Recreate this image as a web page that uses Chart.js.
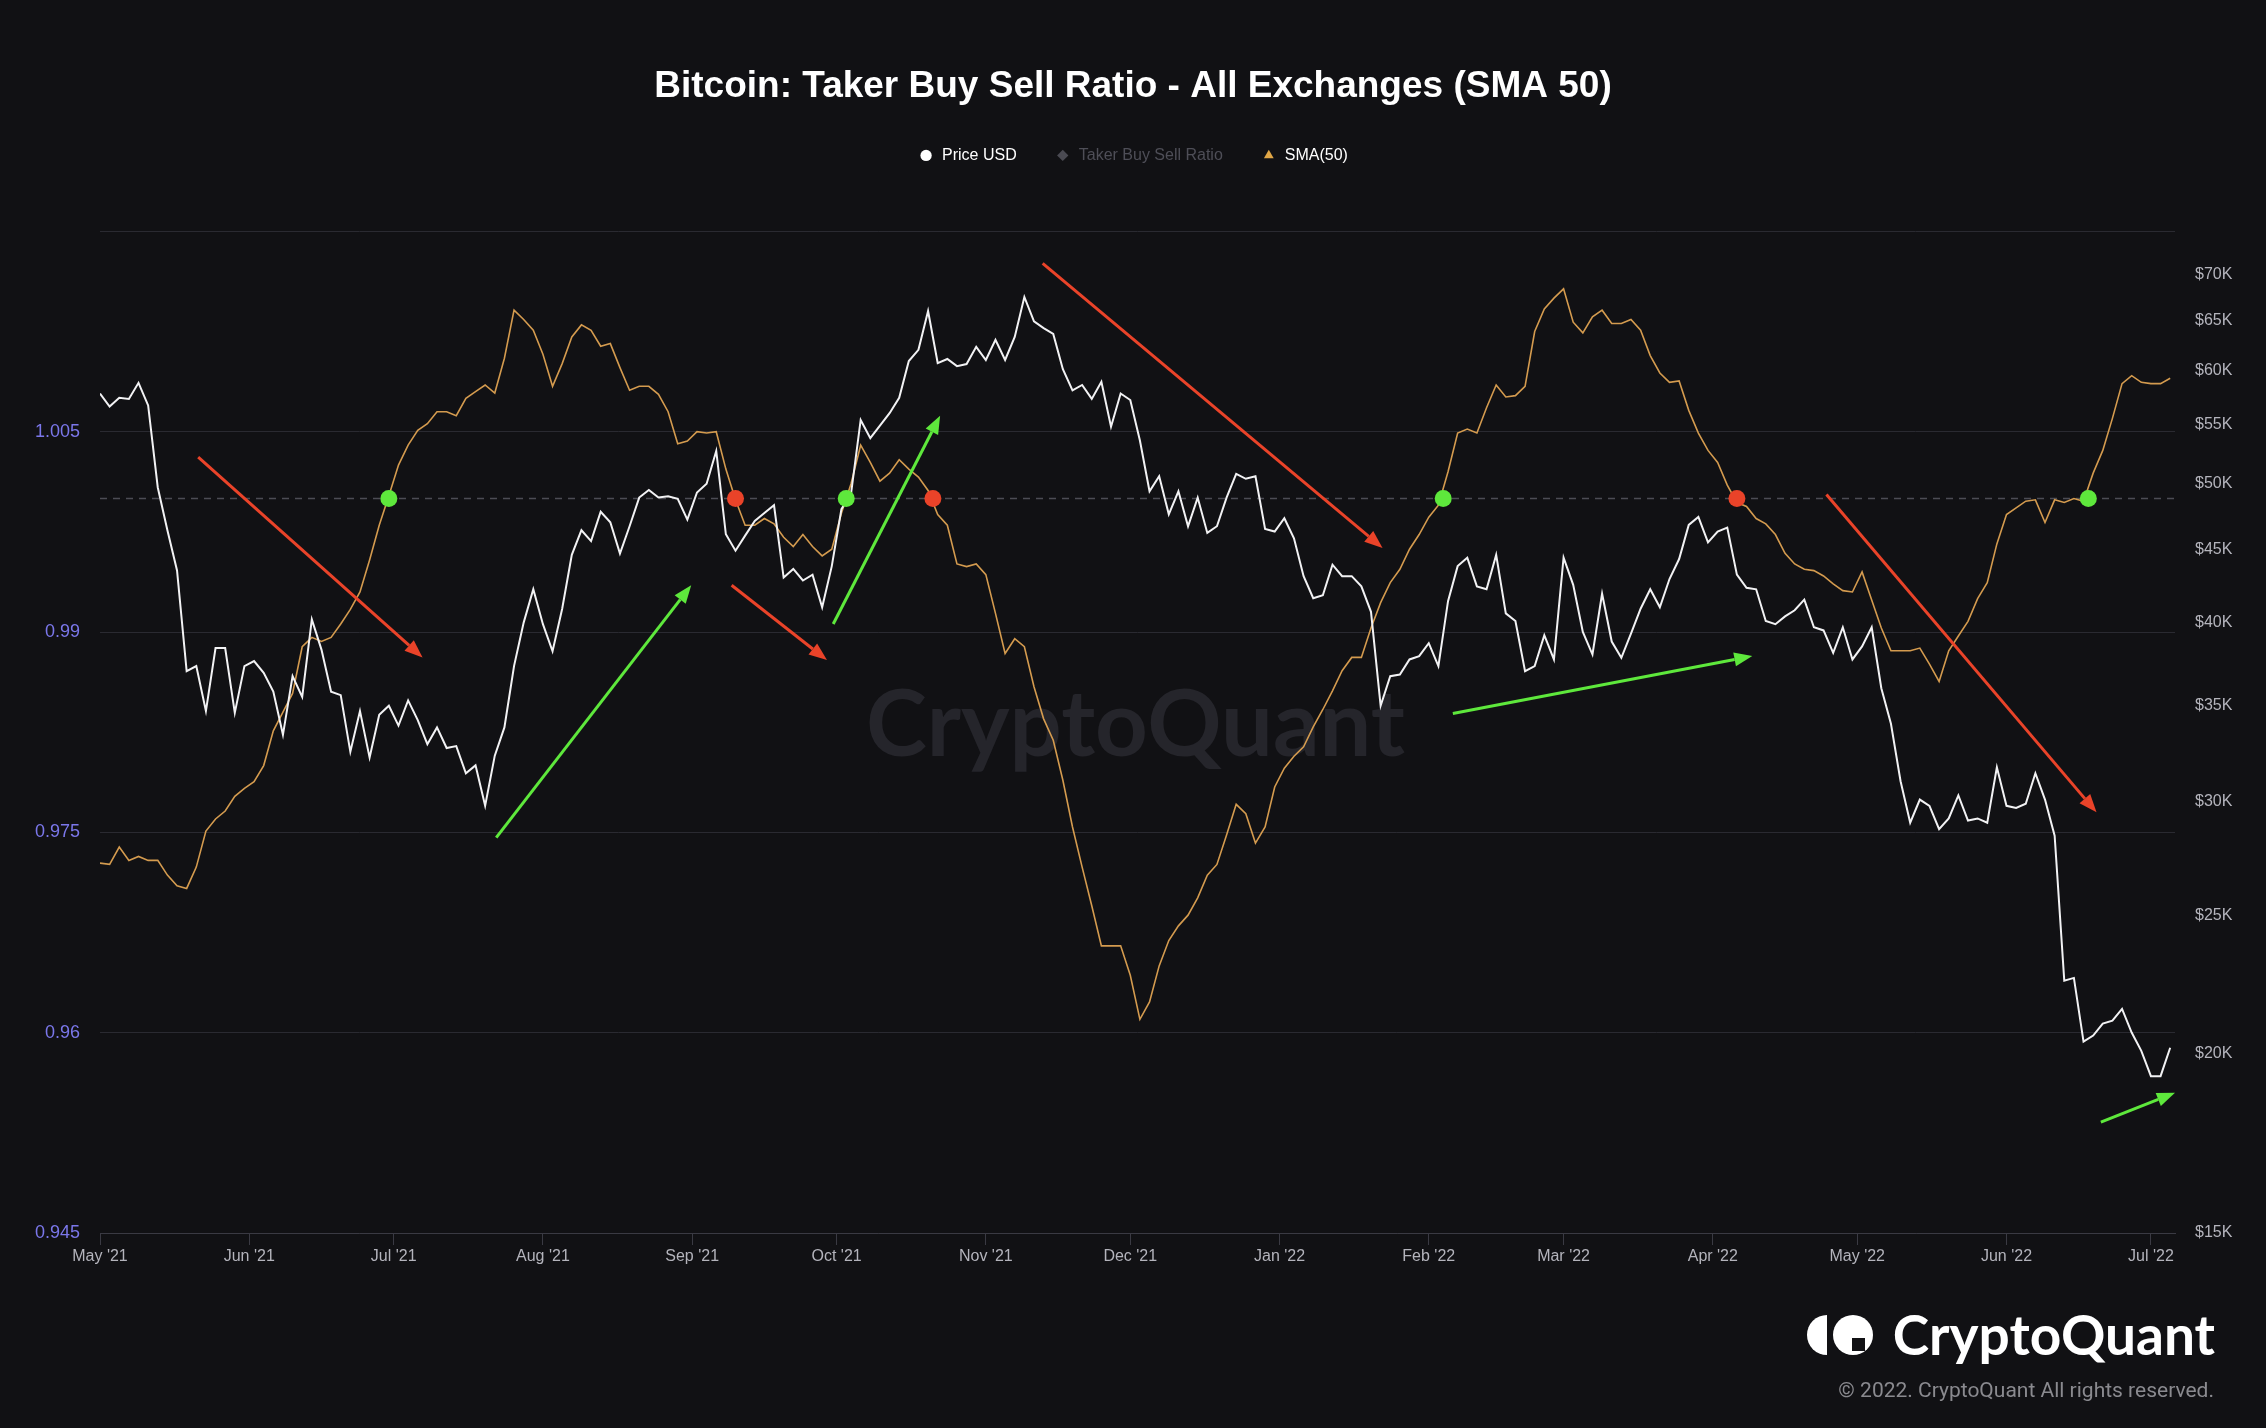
<!DOCTYPE html>
<html>
<head>
<meta charset="utf-8">
<title>Bitcoin: Taker Buy Sell Ratio - All Exchanges (SMA 50)</title>
<script src="https://cdn.jsdelivr.net/npm/chart.js@4.4.1/dist/chart.umd.min.js"></script>
<style>
  html, body { margin: 0; padding: 0; background: #111114; }
  #wrap { width: 2266px; height: 1428px; position: relative; }
</style>
</head>
<body>
<div id="wrap"><canvas id="chart"></canvas></div>
<script>
// x values are days since 1 May 2021
const priceStepDays = 2;
const smaStepDays = 2;

const monthTickDays = [0, 31, 61, 92, 123, 153, 184, 214, 245, 276, 304, 335, 365, 396, 426];
const monthTickLabels = ["May '21", "Jun '21", "Jul '21", "Aug '21", "Sep '21", "Oct '21", "Nov '21",
  "Dec '21", "Jan '22", "Feb '22", "Mar '22", "Apr '22", "May '22", "Jun '22", "Jul '22"];

const ratioTicks = [0.945, 0.96, 0.975, 0.99, 1.005, 1.02];
const ratioTickLabels = ['0.945', '0.96', '0.975', '0.99', '1.005', ''];

const priceTicks = [15000, 20000, 25000, 30000, 35000, 40000, 45000, 50000, 55000, 60000, 65000, 70000];
const priceTickLabels = ['$15K', '$20K', '$25K', '$30K', '$35K', '$40K', '$45K', '$50K', '$55K', '$60K', '$65K', '$70K'];

// BTC price, thousands of USD, every 2 days
const priceUsdK = [
  57.8, 56.6, 57.4, 57.3, 58.8, 56.7, 49.7, 46.4, 43.5, 37.0,
  37.3, 34.7, 38.4, 38.4, 34.6, 37.3, 37.6, 36.9, 35.8, 33.4,
  36.7, 35.5, 40.2, 38.3, 35.8, 35.6, 32.5, 34.7, 32.2, 34.5,
  35.0, 33.9, 35.3, 34.2, 32.9, 33.8, 32.7, 32.8, 31.4, 31.8,
  29.8, 32.3, 33.8, 37.3, 40.0, 42.2, 39.9, 38.2, 40.9, 44.6,
  46.4, 45.6, 47.8, 47.0, 44.7, 46.7, 48.9, 49.5, 48.9, 49.0,
  48.8, 47.2, 49.3, 50.0, 52.7, 46.1, 44.9, 46.0, 47.1, 47.7,
  48.3, 43.0, 43.6, 42.8, 43.2, 41.0, 43.8, 48.0, 49.2, 55.4,
  53.8, 54.9, 56.0, 57.4, 60.9, 62.0, 66.0, 60.7, 61.1, 60.4,
  60.6, 62.3, 61.0, 63.0, 61.0, 63.3, 67.5, 64.9, 64.2, 63.6,
  60.1, 58.1, 58.6, 57.3, 58.9, 54.8, 57.8, 57.2, 53.6, 49.4,
  50.6, 47.6, 49.4, 46.7, 48.9, 46.2, 46.7, 48.9, 50.8, 50.4,
  50.6, 46.5, 46.3, 47.3, 45.8, 43.1, 41.6, 41.8, 43.9, 43.1,
  43.1, 42.4, 40.7, 35.0, 36.7, 36.8, 37.7, 37.9, 38.7, 37.3,
  41.4, 43.8, 44.4, 42.4, 42.2, 44.6, 40.6, 40.1, 37.0, 37.3,
  39.2, 37.7, 44.4, 42.5, 39.4, 38.0, 41.9, 38.8, 37.8, 39.3,
  40.9, 42.2, 41.0, 42.9, 44.3, 46.8, 47.4, 45.5, 46.3, 46.6,
  43.2, 42.3, 42.2, 40.1, 39.9, 40.4, 40.8, 41.5, 39.7, 39.5,
  38.1, 39.7, 37.7, 38.5, 39.7, 36.0, 34.0, 31.0, 29.0, 30.1,
  29.8, 28.7, 29.2, 30.3, 29.1, 29.2, 29.0, 31.7, 29.8, 29.7,
  29.9, 31.4, 30.1, 28.4, 22.5, 22.6, 20.4, 20.6, 21.0, 21.1,
  21.5, 20.7, 20.1, 19.3, 19.3, 20.2
];

// Taker buy/sell ratio, 50-day SMA, every 2 days
const sma50 = [
  0.9727, 0.9726, 0.9739, 0.9729, 0.9732, 0.9729, 0.9729, 0.9718, 0.9710, 0.9708,
  0.9724, 0.9751, 0.9760, 0.9766, 0.9777, 0.9783, 0.9788, 0.9800, 0.9826, 0.9840,
  0.9854, 0.9889, 0.9896, 0.9893, 0.9896, 0.9906, 0.9917, 0.9930, 0.9954, 0.9980,
  1.0002, 1.0025, 1.0040, 1.0051, 1.0056, 1.0065, 1.0065, 1.0062, 1.0075, 1.0080,
  1.0085, 1.0079, 1.0105, 1.0141, 1.0134, 1.0126, 1.0108, 1.0084, 1.0101, 1.0121,
  1.0130, 1.0126, 1.0114, 1.0116, 1.0098, 1.0081, 1.0084, 1.0084, 1.0078, 1.0065,
  1.0041, 1.0043, 1.0050, 1.0049, 1.0050, 1.0022, 0.9999, 0.9980, 0.9980, 0.9985,
  0.9981, 0.9971, 0.9964, 0.9973, 0.9964, 0.9957, 0.9962, 0.9989, 1.0011, 1.0040,
  1.0027, 1.0013, 1.0019, 1.0029, 1.0022, 1.0016, 1.0006, 0.9988, 0.9980, 0.9951,
  0.9949, 0.9951, 0.9943, 0.9914, 0.9884, 0.9895, 0.9889, 0.9859, 0.9835, 0.9819,
  0.9789, 0.9754, 0.9724, 0.9695, 0.9665, 0.9665, 0.9665, 0.9643, 0.9610, 0.9623,
  0.9650, 0.9669, 0.9680, 0.9688, 0.9701, 0.9718, 0.9726, 0.9748, 0.9771, 0.9764,
  0.9742, 0.9754, 0.9784, 0.9798, 0.9807, 0.9814, 0.9829, 0.9842, 0.9856, 0.9871,
  0.9881, 0.9881, 0.9903, 0.9922, 0.9937, 0.9947, 0.9962, 0.9973, 0.9986, 0.9995,
  1.0020, 1.0049, 1.0052, 1.0049, 1.0068, 1.0085, 1.0076, 1.0077, 1.0084, 1.0125,
  1.0142, 1.0150, 1.0157, 1.0132, 1.0124, 1.0136, 1.0141, 1.0131, 1.0131, 1.0134,
  1.0126, 1.0107, 1.0094, 1.0087, 1.0088, 1.0066, 1.0049, 1.0036, 1.0027, 1.0010,
  0.9997, 0.9994, 0.9985, 0.9981, 0.9973, 0.9959, 0.9951, 0.9947, 0.9946, 0.9942,
  0.9936, 0.9931, 0.9930, 0.9945, 0.9924, 0.9903, 0.9886, 0.9886, 0.9886, 0.9888,
  0.9876, 0.9863, 0.9886, 0.9897, 0.9908, 0.9925, 0.9937, 0.9966, 0.9988, 0.9993,
  0.9998, 0.9999, 0.9982, 0.9999, 0.9997, 1.0000, 0.9998, 1.0019, 1.0036, 1.0060,
  1.0086, 1.0092, 1.0087, 1.0086, 1.0086, 1.0090
];

const ratioBaseline = 1.0;
const lastDay = 431;

// SMA crossings of 1.0 (day, 'up' | 'down')
const crossDays = [60, 132, 155, 173, 279, 340, 413];
const crossKinds = ['up', 'down', 'up', 'down', 'up', 'down', 'up'];

// trend arrows drawn on the chart: [dayFrom, ratioFrom, dayTo, ratioTo, kind]
const trendArrows = [
  [20.4, 1.0031, 67.0, 0.9881, 'down'],
  [82.3, 0.9746, 122.8, 0.9935, 'up'],
  [131.2, 0.9935, 151.0, 0.9879, 'down'],
  [152.3, 0.9906, 174.5, 1.0062, 'up'],
  [195.8, 1.0176, 266.4, 0.9963, 'down'],
  [281.0, 0.9839, 343.2, 0.9882, 'up'],
  [358.6, 1.0003, 414.7, 0.9765, 'down'],
  [415.6, 0.9533, 431.0, 0.9555, 'up']
];

const GREEN = '#5ee83c';
const RED = '#ea4329';
const ORANGE = '#d49b4f';

Chart.defaults.font.family = "'Liberation Sans', Arial, sans-serif";

const bgPlugin = {
  id: 'bg',
  beforeDraw(chart) {
    const { ctx, width, height } = chart;
    ctx.save();
    ctx.fillStyle = '#111114';
    ctx.fillRect(0, 0, width, height);
    ctx.restore();
  }
};

// room between legend and plot
const legendMargin = {
  id: 'legendMargin',
  beforeInit(chart) {
    const fit = chart.legend.fit;
    chart.legend.fit = function () {
      fit.bind(chart.legend)();
      this.height += 58;
    };
  }
};

const watermark = {
  id: 'watermark',
  beforeDatasetsDraw(chart) {
    const { ctx, chartArea } = chart;
    ctx.save();
    ctx.font = "bold 92px Lato, 'Noto Sans', sans-serif";
    ctx.fillStyle = '#25252b';
    ctx.textAlign = 'center';
    ctx.textBaseline = 'middle';
    ctx.fillText('CryptoQuant', (chartArea.left + chartArea.right) / 2 - 2, 726);
    ctx.restore();
  }
};

const arrowsPlugin = {
  id: 'arrows',
  afterDatasetsDraw(chart) {
    const { ctx, scales } = chart;
    ctx.save();
    trendArrows.forEach(([d0, r0, d1, r1, kind]) => {
      const x0 = scales.x.getPixelForValue(d0), y0 = scales.y.getPixelForValue(r0);
      const x1 = scales.x.getPixelForValue(d1), y1 = scales.y.getPixelForValue(r1);
      const ang = Math.atan2(y1 - y0, x1 - x0);
      const head = 18, half = 7;
      const bx = x1 - head * Math.cos(ang), by = y1 - head * Math.sin(ang);
      const col = kind === 'up' ? GREEN : RED;
      ctx.strokeStyle = col;
      ctx.fillStyle = col;
      ctx.lineWidth = 3;
      ctx.beginPath();
      ctx.moveTo(x0, y0);
      ctx.lineTo(bx, by);
      ctx.stroke();
      ctx.beginPath();
      ctx.moveTo(x1, y1);
      ctx.lineTo(bx + half * Math.sin(ang), by - half * Math.cos(ang));
      ctx.lineTo(bx - half * Math.sin(ang), by + half * Math.cos(ang));
      ctx.closePath();
      ctx.fill();
    });
    ctx.restore();
  }
};

const branding = {
  id: 'branding',
  afterDraw(chart) {
    const { ctx } = chart;
    ctx.save();
    ctx.fillStyle = '#ffffff';
    // logo mark
    ctx.beginPath();
    ctx.arc(1827, 1335, 20, Math.PI / 2, Math.PI * 1.5);
    ctx.closePath();
    ctx.fill();
    ctx.beginPath();
    ctx.arc(1853, 1335, 20, 0, Math.PI * 2);
    ctx.fill();
    ctx.fillStyle = '#111114';
    ctx.fillRect(1852, 1338, 13, 13);
    // wordmark
    ctx.fillStyle = '#ffffff';
    ctx.font = "bold 55px Lato, 'Noto Sans', sans-serif";
    ctx.textAlign = 'right';
    ctx.textBaseline = 'alphabetic';
    ctx.fillText('CryptoQuant', 2215, 1355);
    ctx.fillStyle = '#8a8a8f';
    ctx.font = "21px Roboto, 'Noto Sans', sans-serif";
    ctx.fillText('\u00A9 2022. CryptoQuant All rights reserved.', 2214, 1397);
    ctx.restore();
  }
};

const datasets = [
  {
    label: 'Price USD',
    data: priceUsdK.map((p, i) => ({ x: i * priceStepDays, y: p * 1000 })),
    yAxisID: 'yPrice',
    borderColor: '#f2f2f4',
    borderWidth: 2,
    pointRadius: 0,
    pointStyle: 'circle',
    legendColor: '#ffffff',
    order: 2
  },
  {
    label: 'Taker Buy Sell Ratio',
    data: [],
    yAxisID: 'y',
    hidden: true,
    borderColor: '#4a4a52',
    pointStyle: 'rectRot',
    legendColor: '#4a4a52',
    order: 4
  },
  {
    label: 'SMA(50)',
    data: sma50.map((v, i) => ({ x: i * smaStepDays, y: v })),
    yAxisID: 'y',
    borderColor: ORANGE,
    borderWidth: 1.6,
    pointRadius: 0,
    pointStyle: 'triangle',
    legendColor: '#e0a646',
    order: 3
  },
  {
    label: 'crossings',
    data: crossDays.map(d => ({ x: d, y: ratioBaseline })),
    yAxisID: 'y',
    showLine: false,
    pointRadius: 8.5,
    pointHoverRadius: 8.5,
    pointBorderWidth: 0,
    pointBackgroundColor: crossKinds.map(k => (k === 'up' ? GREEN : RED)),
    order: 0
  },
  {
    label: 'baseline',
    data: [{ x: 0, y: ratioBaseline }, { x: lastDay, y: ratioBaseline }],
    yAxisID: 'y',
    borderColor: '#4c4c54',
    borderWidth: 1.3,
    borderDash: [7, 6],
    pointRadius: 0,
    order: 5
  }
];

new Chart(document.getElementById('chart'), {
  type: 'line',
  data: { datasets },
  plugins: [bgPlugin, legendMargin, watermark, arrowsPlugin, branding],
  options: {
    responsive: true,
    maintainAspectRatio: false,
    animation: false,
    layout: { padding: 0 },
    plugins: {
      title: {
        display: true,
        text: 'Bitcoin: Taker Buy Sell Ratio - All Exchanges (SMA 50)',
        color: '#ffffff',
        font: { size: 37, weight: 'bold' },
        padding: { top: 65, bottom: 0 }
      },
      legend: {
        display: true,
        position: 'top',
        labels: {
          usePointStyle: true,
          boxHeight: 8,
          padding: 38,
          font: { size: 16 },
          generateLabels: chart => chart.data.datasets.slice(0, 3).map((ds, i) => ({
            text: ds.label,
            fillStyle: ds.legendColor,
            strokeStyle: ds.legendColor,
            lineWidth: 0,
            pointStyle: ds.pointStyle,
            hidden: false,
            fontColor: i === 1 ? '#4e4e57' : '#ffffff',
            datasetIndex: i
          }))
        }
      },
      tooltip: { enabled: false }
    },
    scales: {
      x: {
        type: 'linear',
        position: 'bottom',
        min: 0,
        max: lastDay,
        afterBuildTicks: axis => { axis.ticks = monthTickDays.map(v => ({ value: v })); },
        afterFit: scale => { scale.height = 195; },
        grid: { drawOnChartArea: false, drawTicks: true, tickLength: 12, color: '#3a3a43' },
        border: { display: true, color: '#3a3a43' },
        ticks: {
          autoSkip: false,
          maxRotation: 0,
          padding: 2,
          color: '#b4b4bc',
          font: { size: 16 },
          callback: (v, i) => monthTickLabels[i]
        }
      },
      y: {
        type: 'linear',
        position: 'left',
        min: 0.945,
        max: 1.02,
        afterBuildTicks: axis => { axis.ticks = ratioTicks.map(v => ({ value: v })); },
        afterFit: scale => { scale.width = 100; },
        grid: { color: '#2a2a31', drawTicks: false },
        border: { display: false },
        ticks: {
          padding: 20,
          color: '#7b77ea',
          font: { size: 18 },
          callback: (v, i) => ratioTickLabels[i]
        }
      },
      yPrice: {
        type: 'logarithmic',
        position: 'right',
        min: 15000,
        max: 75000,
        afterBuildTicks: axis => { axis.ticks = priceTicks.map(v => ({ value: v })); },
        afterFit: scale => { scale.width = 91; },
        grid: { display: false, drawTicks: false },
        border: { display: false },
        ticks: {
          padding: 20,
          color: '#b4b4bc',
          font: { size: 16 },
          callback: (v, i) => priceTickLabels[i]
        }
      }
    }
  }
});
</script>
</body>
</html>
